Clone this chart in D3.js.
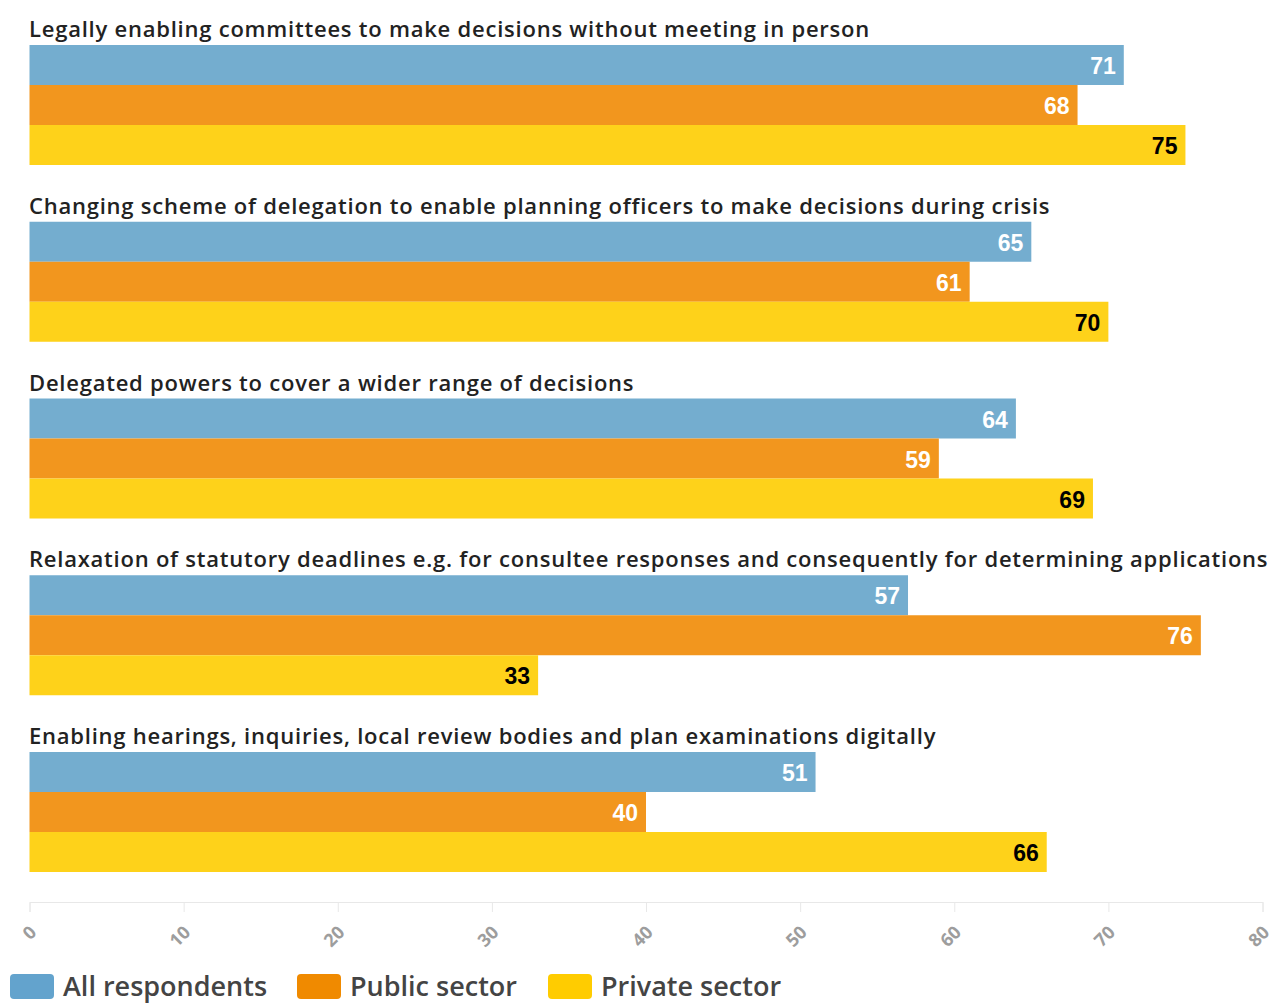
<!DOCTYPE html>
<meta charset="utf-8">
<script src="https://d3js.org/d3.v7.min.js"></script>

<style>
body { margin: 0; background: #fff; }
.title { font-family: "Open Sans", sans-serif; font-weight: 600; fill: #222; letter-spacing: 0.77px; }
.value { font-family: "Liberation Sans", Arial, sans-serif; font-weight: 700; }
.axis .domain, .axis line { stroke: #e8e8e8; }
.axis text { font-family: "Open Sans", sans-serif; font-weight: 700; fill: #9d9d9d; font-size: 18px; }
.legend text { font-family: "Open Sans", sans-serif; font-weight: 600; fill: #444; font-size: 27px; }
</style>

<div id="chart"></div>

<script>
  // Data
  var categories = [
    "Legally enabling committees to make decisions without meeting in person",
    "Changing scheme of delegation to enable planning officers to make decisions during crisis",
    "Delegated powers to cover a wider range of decisions",
    "Relaxation of statutory deadlines e.g. for consultee responses and consequently for determining applications",
    "Enabling hearings, inquiries, local review bodies and plan examinations digitally"
  ];
  var seriesNames = ["All respondents", "Public sector", "Private sector"];
  var allRespondents = [71, 65, 64, 57, 51];
  var publicSector = [68, 61, 59, 76, 40];
  var privateSector = [75, 70, 69, 33, 66];
  var tickValues = [0, 10, 20, 30, 40, 50, 60, 70, 80];

  var barColors = ["#74adcf", "#f2961e", "#fed21a"];
  var legendColors = ["#63a3cd", "#f08a00", "#ffcc00"];
  var labelColors = ["#fff", "#fff", "#000"];

  var values = [allRespondents, publicSector, privateSector];

  // Boilerplate
  var width = 1276, height = 1003;
  var svg = d3.select("#chart")
              .append("svg")
              .attr("width", width)
              .attr("height", height);

  // Scales
  var x = d3.scaleLinear()
            .domain([0, 80])
            .range([29.5, 1262.5]);

  var y0 = d3.scaleBand()
             .domain(categories)
             .range([45, 45 + 176.75 * categories.length]);

  var y1 = d3.scaleBand()
             .domain(seriesNames)
             .range([0, 120]);

  // Groups
  var groups = svg.selectAll(".group")
     .data(categories)
     .enter()
     .append("g")
     .attr("class", "group")
     .attr("transform", function (d) { return "translate(0," + y0(d) + ")"; });

  groups.append("text")
     .attr("class", "title")
     .attr("x", 29)
     .attr("y", -8)
     .style("font-size", "22px")
     .text(function (d) { return d; });

  groups.each(function (cat, i) {
    var g = d3.select(this);
    var rows = seriesNames.map(function (s, j) {
      return { series: s, j: j, value: values[j][i] };
    });

    g.selectAll("rect")
     .data(rows)
     .enter()
     .append("rect")
     .attr("x", x(0))
     .attr("y", function (d) { return y1(d.series); })
     .attr("width", function (d) { return x(d.value) - x(0); })
     .attr("height", y1.bandwidth())
     .attr("fill", function (d) { return barColors[d.j]; });

    g.selectAll(".value")
     .data(rows)
     .enter()
     .append("text")
     .attr("class", "value")
     .attr("x", function (d) { return x(d.value) - 8; })
     .attr("y", function (d) { return y1(d.series) + y1.bandwidth() / 2 + 9; })
     .attr("text-anchor", "end")
     .style("font-size", "23px")
     .attr("fill", function (d) { return labelColors[d.j]; })
     .text(function (d) { return d.value; });
  });

  // Axis
  var axis = d3.axisBottom(x)
               .tickValues(tickValues)
               .tickSize(10)
               .tickPadding(0)
               .tickFormat(d3.format("d"));

  var axisG = svg.append("g")
     .attr("class", "axis")
     .attr("transform", "translate(0,902)")
     .call(axis);

  axisG.selectAll("text")
     .attr("y", 0)
     .attr("text-anchor", "end")
     .attr("transform", "translate(3,27) rotate(-45)")
     .attr("dy", "0.35em");

  // Legend
  var legend = svg.append("g").attr("class", "legend");
  var legendX = [10, 297, 548];
  var items = legend.selectAll("g")
     .data(seriesNames)
     .enter()
     .append("g")
     .attr("transform", function (d, i) { return "translate(" + legendX[i] + ",974)"; });

  items.append("rect")
     .attr("width", 44)
     .attr("height", 25)
     .attr("rx", 4)
     .attr("fill", function (d, i) { return legendColors[i]; });

  items.append("text")
     .attr("x", 53)
     .attr("y", 22)
     .text(function (d) { return d; });
</script>
